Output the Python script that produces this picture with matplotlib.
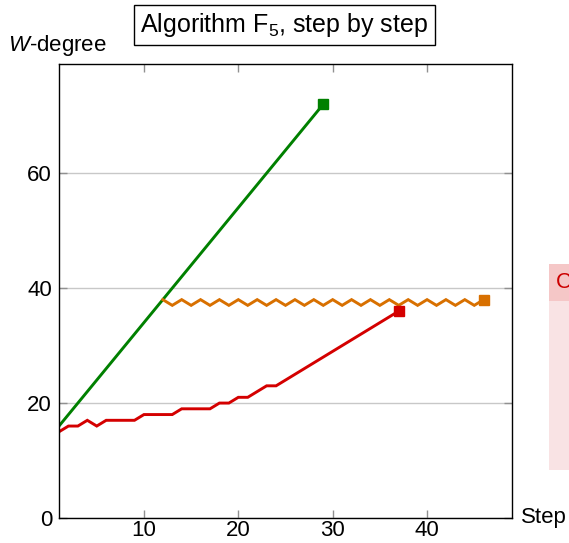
#Algorithm F5 step-by-step W-degree plot
import matplotlib
matplotlib.use('Agg')
import matplotlib.pyplot as plt
from matplotlib.patches import Rectangle

plt.rcParams['font.family'] = ['Liberation Sans', 'DejaVu Sans']
plt.rcParams['mathtext.fontset'] = 'custom'
plt.rcParams['mathtext.rm'] = 'Liberation Sans'
plt.rcParams['mathtext.it'] = 'Liberation Sans:italic'

#red series (one point per step)
red_steps = list(range(1, 38))
red_deg = [15, 16, 16, 17, 16, 17, 17, 17, 17, 18, 18, 18, 18, 19, 19, 19, 19,
           20, 20, 21, 21, 22, 23, 23, 24, 25, 26, 27, 28, 29, 30, 31, 32, 33,
           34, 35, 36]
#green series
green_steps = list(range(1, 30))
green_deg = [16, 18, 20, 22, 24, 26, 28, 30, 32, 34, 36, 38, 40, 42, 44, 46, 48,
             50, 52, 54, 56, 58, 60, 62, 64, 66, 68, 70, 72]
#orange series, zigzags between 38 and 37
orange_steps = list(range(12, 47))
orange_deg = [38, 37, 38, 37, 38, 37, 38, 37, 38, 37, 38, 37, 38, 37, 38, 37, 38,
              37, 38, 37, 38, 37, 38, 37, 38, 37, 38, 37, 38, 37, 38, 37, 38, 37, 38]

xticks = [10, 20, 30, 40]
yticks = [0, 20, 40, 60]

RED = '#d40000'
GREEN = '#008000'
ORANGE = '#d87000'

fig = plt.figure(figsize=(5.69, 5.43), dpi=100)
ax = fig.add_axes([59/569, 1-518/543, (512-59)/569, (518-64)/543])

ax.grid(axis='y', color='#c8c8c8', linewidth=1)
ax.set_axisbelow(True)

for xs, ys, c in [(green_steps, green_deg, GREEN),
                  (orange_steps, orange_deg, ORANGE),
                  (red_steps, red_deg, RED)]:
    ax.plot(xs, ys, color=c, linewidth=2.1, solid_joinstyle='miter')
    ax.plot(xs[-1], ys[-1], marker='s', markersize=7.5, color=c)

ax.set_xlim(1, 49)
ax.set_ylim(0, 79)
ax.set_xticks(xticks)
ax.set_yticks(yticks)
ax.tick_params(direction='in', length=6, width=1, color='#909090',
               top=True, right=True, labelsize=16)
ax.tick_params(axis='x', pad=1.5)
ax.tick_params(axis='y', pad=5)
for s in ax.spines.values():
    s.set_linewidth(1)

#labels at the axis ends, like pgfplots
fig.text(8/569, 1-46/543, '$W$-degree', fontsize=16, ha='left', va='center')
fig.text(521/569, 1-518/543, 'Step', fontsize=16, ha='left', va='center')

fig.text(284.5/569, 1-25/543, 'Algorithm F$_5$, step by step', fontsize=18,
         ha='center', va='center',
         bbox=dict(boxstyle='square,pad=0.25', facecolor='white',
                   edgecolor='black', linewidth=1))

#cut-off box at the right edge
fig.patches.append(Rectangle((549/569, 1-470/543), 0.1, (470-301)/543,
                             transform=fig.transFigure, facecolor='#f9e3e4',
                             edgecolor='none'))
fig.patches.append(Rectangle((549/569, 1-301/543), 0.1, (301-264)/543,
                             transform=fig.transFigure, facecolor='#f5c7c7',
                             edgecolor='none'))
fig.text(556/569, 1-283/543, 'C', fontsize=16, color='#cc0000',
         ha='left', va='center')

plt.savefig('out.png', dpi=100)
